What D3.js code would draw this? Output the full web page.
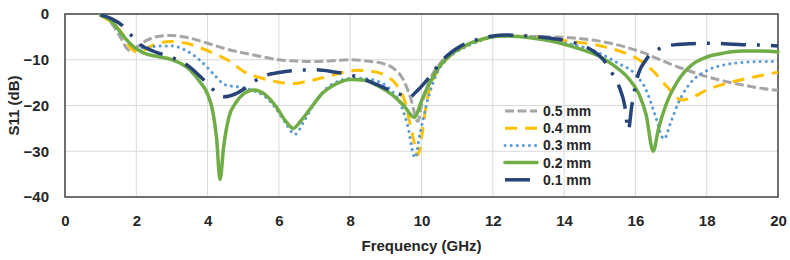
<!DOCTYPE html>
<html>
<head>
<meta charset="utf-8">
<script src="https://cdn.jsdelivr.net/npm/d3@7"></script>
<style>
  body { margin: 0; background: #fff; }
  text { font-family: "Liberation Sans", Arial, sans-serif; font-weight: bold; fill: #262626; }
  .grid line { stroke: #d9d9d9; stroke-width: 1; }
  .axis path, .axis line { display: none; }
</style>
</head>
<body>
<div id="chart"></div>
<script>
// data
const xTicks = [0, 2, 4, 6, 8, 10, 12, 14, 16, 18, 20];
const yTicks = [0, -10, -20, -30, -40];
const labels = ['0.5 mm', '0.4 mm', '0.3 mm', '0.2 mm', '0.1 mm'];

const f05 = [1.0, 1.3, 1.55, 1.8, 2.0, 2.3, 2.7, 3.0, 3.4, 4.0, 4.5, 5.0, 5.5, 6.0, 6.5, 7.0, 7.5, 8.0, 8.5, 8.9, 9.2, 9.5, 9.7, 9.9, 10.0, 10.2, 10.5, 10.8, 11.2, 11.7, 12.3, 13.0, 13.6, 14.2, 14.8, 15.3, 15.8, 16.2, 16.6, 17.0, 17.5, 18.0, 18.5, 19.0, 19.5, 20.0];
const s05 = [-0.3, -2, -5, -7.9, -7.3, -5.7, -4.8, -4.7, -5.1, -6.4, -7.6, -8.5, -9.3, -10, -10.3, -10.4, -10.2, -10, -10.3, -10.8, -11.8, -14.5, -18.5, -23.5, -20, -15, -11, -8.8, -7, -5.5, -4.8, -4.9, -5.0, -5.2, -5.7, -6.4, -7.4, -8.4, -9.7, -11, -12.4, -13.7, -14.7, -15.5, -16.2, -16.7];

const f04 = [1.0, 1.3, 1.6, 1.85, 2.05, 2.3, 2.6, 3.0, 3.4, 3.8, 4.2, 4.6, 5.0, 5.5, 6.0, 6.4, 6.8, 7.3, 7.8, 8.2, 8.6, 9.0, 9.3, 9.55, 9.75, 9.9, 10.0, 10.15, 10.35, 10.6, 10.9, 11.3, 11.8, 12.3, 13.0, 13.6, 14.2, 14.8, 15.3, 15.7, 16.1, 16.5, 16.9, 17.3, 17.6, 18.0, 18.5, 19.0, 19.5, 20.0];
const s04 = [-0.3, -1.8, -4.2, -7.5, -8.4, -7.5, -6.4, -6.0, -6.4, -7.4, -8.7, -10.2, -12.5, -14, -14.9, -15.2, -14.7, -13.8, -12.8, -12.3, -12.5, -13.5, -15.5, -19.5, -26.5, -30.8, -27, -19, -14, -10.8, -8.6, -6.8, -5.4, -4.8, -5.0, -5.3, -6, -6.6, -7.5, -8.5, -10, -12.5, -16, -18.8, -18.2, -16.6, -15.3, -14.3, -13.5, -12.7];

const f03 = [1.0, 1.3, 1.55, 1.75, 2.0, 2.3, 2.6, 3.0, 3.4, 3.8, 4.15, 4.5, 4.9, 5.3, 5.6, 5.9, 6.2, 6.45, 6.7, 7.0, 7.3, 7.7, 8.1, 8.5, 8.8, 9.1, 9.4, 9.6, 9.82, 9.95, 10.15, 10.4, 10.7, 11.0, 11.5, 12.2, 12.8, 13.4, 14.0, 14.5, 15.0, 15.5, 16.0, 16.3, 16.55, 16.8, 17.0, 17.2, 17.5, 18.0, 18.5, 19.0, 19.5, 20.0];
const s03 = [-0.3, -1.5, -3.8, -5.8, -7.4, -7.4, -7.0, -7.0, -8.0, -10.2, -13, -15.5, -16, -16.8, -18, -20.5, -24, -26.3, -23.5, -19.5, -16.5, -14.6, -14.0, -14.2, -14.8, -16.3, -19.5, -24, -31.4, -26.5, -19.5, -13.5, -10, -8.2, -6.3, -4.9, -5, -5.4, -6.3, -7.2, -8.6, -10.7, -13.2, -16.6, -22, -27.3, -23.5, -19.5, -15.5, -12.4, -11.1, -10.6, -10.4, -10.4];

const f02 = [1.0, 1.3, 1.6, 1.9, 2.2, 2.6, 3.0, 3.5, 3.8, 4.0, 4.15, 4.25, 4.35, 4.45, 4.6, 4.8, 5.0, 5.3, 5.6, 5.9, 6.2, 6.4, 6.6, 6.9, 7.2, 7.6, 8.0, 8.4, 8.8, 9.2, 9.5, 9.8, 10.0, 10.2, 10.5, 10.8, 11.2, 11.7, 12.3, 12.8, 13.4, 13.9, 14.5, 15.0, 15.4, 15.8, 16.1, 16.3, 16.5, 16.65, 16.85, 17.2, 17.6, 18.0, 18.5, 19.0, 19.5, 20.0];
const s02 = [-0.3, -1.5, -4.5, -7.0, -8.5, -9.3, -10.0, -12.2, -15, -17.5, -21.5, -27, -36.2, -29, -22.5, -19.3, -17.5, -16.6, -17.5, -20, -23.5, -25, -23.5, -20.5, -17.5, -15.3, -14.3, -14.5, -15.8, -17.8, -20, -22.6, -19, -15.5, -11.5, -9, -7, -5.5, -4.8, -5.0, -5.6, -6.4, -7.8, -9.3, -11.3, -14, -17.5, -22, -30, -25, -20, -14.5, -11, -9.4, -8.5, -8.1, -8.1, -8.3];

const f01 = [1.0, 1.3, 1.65, 1.9, 2.1, 2.5, 3.0, 3.5, 3.9, 4.15, 4.45, 4.8, 5.1, 5.5, 6.0, 6.5, 7.0, 7.5, 8.0, 8.5, 9.0, 9.45, 9.65, 9.85, 10.2, 10.6, 11.1, 11.7, 12.3, 13.0, 13.5, 14.3, 14.8, 15.1, 15.35, 15.55, 15.7, 15.8, 15.9, 16.05, 16.3, 16.6, 17.0, 17.5, 18.0, 18.5, 19.0, 19.5, 20.0];
const s01 = [-0.2, -1, -2.8, -5, -6.6, -8.2, -9.5, -11.6, -14.5, -16.5, -18.1, -17.4, -16, -13.8, -12.8, -12.3, -12.2, -12.6, -13.3, -14.6, -16.3, -17.7, -18.3, -17, -14, -10, -7, -5.3, -4.6, -4.8, -5.2, -6.3, -8, -10, -13, -16, -20, -25.4, -20, -14, -10, -7.9, -6.8, -6.5, -6.4, -6.5, -6.7, -6.8, -7.0];

const series = [
  {name: labels[0], f: f05, s: s05, color: '#a5a5a5', w: 3, dash: '9,3.5', cap: 'butt'},
  {name: labels[1], f: f04, s: s04, color: '#ffc000', w: 3, dash: '12,8', cap: 'butt'},
  {name: labels[2], f: f03, s: s03, color: '#5b9bd5', w: 3, dash: '0.1,6', cap: 'round'},
  {name: labels[3], f: f02, s: s02, color: '#70ad47', w: 3.5, dash: null, cap: 'round'},
  {name: labels[4], f: f01, s: s01, color: '#264478', w: 3.5, dash: '25,11,3,11', cap: 'butt'}
];

const margin = {top: 14, right: 12, bottom: 63, left: 65};
const width = 790 - margin.left - margin.right,
      height = 260 - margin.top - margin.bottom;

const svg = d3.select('#chart').append('svg')
    .attr('width', 790)
    .attr('height', 260)
    .append('g')
    .attr('transform', `translate(${margin.left}, ${margin.top})`);

const xScale = d3.scaleLinear().domain([0, 20]).range([0, width]);
const yScale = d3.scaleLinear().domain([-40, 0]).range([height, 0]);

// gridlines
svg.append('g').attr('class', 'grid')
    .selectAll('line.v').data(xTicks.slice(1, -1)).enter()
    .append('line')
    .attr('x1', d => xScale(d)).attr('x2', d => xScale(d))
    .attr('y1', 0).attr('y2', height);
svg.append('g').attr('class', 'grid')
    .selectAll('line.h').data(yTicks.slice(1, -1)).enter()
    .append('line')
    .attr('x1', 0).attr('x2', width)
    .attr('y1', d => yScale(d)).attr('y2', d => yScale(d));

const xAxis = d3.axisBottom(xScale).tickValues(xTicks).tickSize(0).tickPadding(18);
svg.append('g')
    .attr('class', 'axis x-axis')
    .attr('transform', `translate(0, ${height})`)
    .call(xAxis)
    .selectAll('text').style('font-size', '15px');

const yAxis = d3.axisLeft(yScale).tickValues(yTicks).tickSize(0).tickPadding(16);
svg.append('g')
    .attr('class', 'axis y-axis')
    .call(yAxis)
    .selectAll('text').style('font-size', '15px');

// frame
svg.append('rect')
    .attr('width', width).attr('height', height)
    .attr('fill', 'none').attr('stroke', '#404040').attr('stroke-width', 1.5);

const line = d3.line()
    .x(d => xScale(d[0]))
    .y(d => yScale(d[1]))
    .curve(d3.curveMonotoneX);

series.forEach(sr => {
  svg.append('path')
    .datum(d3.zip(sr.f, sr.s))
    .attr('fill', 'none')
    .attr('stroke', sr.color)
    .attr('stroke-width', sr.w)
    .attr('stroke-linecap', sr.cap)
    .attr('stroke-dasharray', sr.dash)
    .attr('d', line);
});

// legend
const legend = svg.append('g').attr('transform', 'translate(440, 97)');
const item = legend.selectAll('g').data(series).enter()
    .append('g')
    .attr('transform', (d, i) => `translate(0, ${i * 17.2})`);
item.append('line')
    .attr('x1', 0).attr('x2', 32)
    .attr('stroke', d => d.color)
    .attr('stroke-width', d => d.w)
    .attr('stroke-linecap', d => d.cap)
    .attr('stroke-dasharray', d => d.dash);
item.append('text')
    .attr('x', 38).attr('dy', '0.35em')
    .style('font-size', '14px')
    .text(d => d.name);

svg.append('text')
    .attr('x', width / 2).attr('y', height + 54)
    .attr('text-anchor', 'middle')
    .style('font-size', '15px')
    .text('Frequency (GHz)');

svg.append('text')
    .attr('transform', `translate(-46, ${height / 2}) rotate(-90)`)
    .attr('text-anchor', 'middle')
    .style('font-size', '15px')
    .text('S11 (dB)');
</script>
</body>
</html>
